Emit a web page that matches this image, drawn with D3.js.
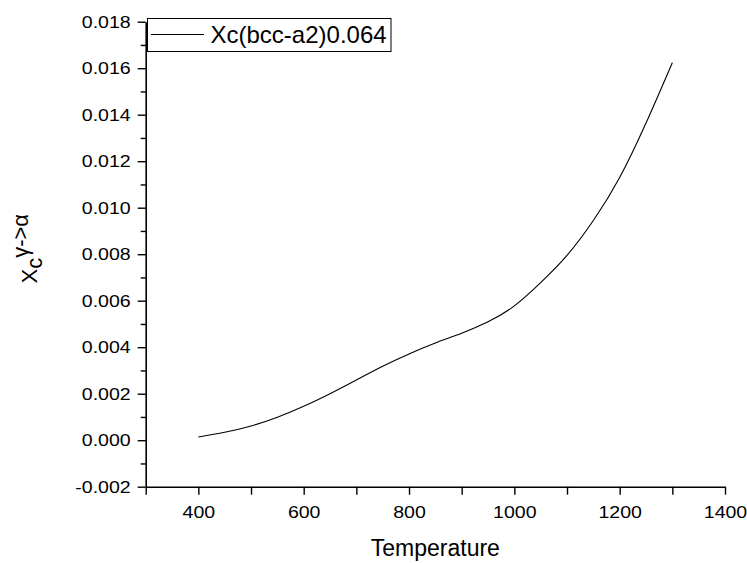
<!DOCTYPE html>
<html>
<head>
<meta charset="utf-8">
<script src="https://cdn.jsdelivr.net/npm/d3@7"></script>
<style>
  html, body { margin: 0; padding: 0; background: #fff; }
  svg { display: block; font-family: "Liberation Sans", Arial, sans-serif; }
</style>
</head>
<body>
<svg id="chart" width="747" height="563"></svg>
<script>
// Critical carbon fraction for the gamma -> alpha transformation vs temperature
const temperature = [400, 450, 500, 550, 600, 650, 700, 750, 800, 850, 900, 950, 1000, 1050, 1100, 1150, 1200, 1250, 1300];
const xc = [0.00014, 0.00034, 0.00061, 0.00099, 0.00146, 0.00200, 0.00259, 0.00318, 0.00371, 0.00418, 0.00460, 0.00509, 0.00578, 0.00678, 0.00795, 0.00945, 0.01130, 0.01364, 0.01624];
const seriesName = "Xc(bcc-a2)0.064";

const xMajorTicks = [400, 600, 800, 1000, 1200, 1400];
const xAllTicks = [300, 400, 500, 600, 700, 800, 900, 1000, 1100, 1200, 1300, 1400];
const yMajorTicks = [-0.002, 0, 0.002, 0.004, 0.006, 0.008, 0.010, 0.012, 0.014, 0.016, 0.018];
const yMinorTicks = [-0.001, 0.001, 0.003, 0.005, 0.007, 0.009, 0.011, 0.013, 0.015, 0.017];

const svg = d3.select("#chart");
const plotL = 145.7, plotR = 725, plotT = 21.7, plotB = 486.7;

const x = d3.scaleLinear().domain([300, 1400]).range([plotL, plotR]);
const y = d3.scaleLinear().domain([-0.002, 0.018]).range([plotB, plotT]);

const fmtY = v => d3.format(".3f")(v).replace("\u2212", "-");

// x axis: ticks every 100, labels every 200
const gx = svg.append("g").attr("transform", `translate(0,${plotB})`);
gx.call(d3.axisBottom(x).tickValues(xAllTicks).tickSize(8).tickSizeOuter(0)
  .tickFormat(d => xMajorTicks.includes(d) ? d : ""));
gx.select(".domain").attr("stroke-width", 1.6);
gx.selectAll(".tick line").attr("stroke-width", 1.4);
gx.selectAll(".tick text")
  .attr("y", 0).attr("dy", 0)
  .attr("transform", "translate(0,31.6) scale(1.15,1)")
  .attr("font-size", 17).attr("fill", "#000")
  .attr("font-family", "Liberation Sans, Arial, sans-serif");

// y axis: labelled majors, shorter minors
const gy = svg.append("g").attr("transform", `translate(${plotL},0)`);
gy.call(d3.axisLeft(y).tickValues(yMajorTicks).tickSize(8).tickSizeOuter(0).tickFormat(fmtY));
gy.select(".domain").attr("stroke-width", 1.6);
gy.selectAll(".tick line").attr("stroke-width", 1.4);
gy.selectAll(".tick text")
  .attr("x", 0).attr("dy", "0.34em")
  .attr("transform", "translate(-15,0) scale(1.15,1)")
  .attr("font-size", 17).attr("fill", "#000")
  .attr("font-family", "Liberation Sans, Arial, sans-serif");

const gyMinor = svg.append("g").attr("transform", `translate(${plotL},0)`);
gyMinor.call(d3.axisLeft(y).tickValues(yMinorTicks).tickSize(5).tickFormat(""));
gyMinor.select(".domain").remove();
gyMinor.selectAll(".tick line").attr("stroke-width", 1.4);

// curve
const pts = temperature.map((t, i) => [t, xc[i]]);
const line = d3.line().x(d => x(d[0])).y(d => y(d[1])).curve(d3.curveNatural);
svg.append("path")
  .datum(pts)
  .attr("d", line)
  .attr("fill", "none")
  .attr("stroke", "#000")
  .attr("stroke-width", 1.1);

// axis titles
svg.append("text")
  .attr("x", (plotL + plotR) / 2).attr("y", 556)
  .attr("text-anchor", "middle")
  .attr("font-size", 23)
  .text("Temperature");

const yl = svg.append("text")
  .attr("transform", "translate(36.7,283.5) rotate(-90)")
  .attr("font-size", 22);
yl.append("tspan").text("X");
yl.append("tspan").attr("dy", 5).text("c");
yl.append("tspan").attr("dy", -13.4).text("\u03b3->\u03b1");

// legend
const lg = svg.append("g");
lg.append("rect")
  .attr("x", 147.5).attr("y", 18.5).attr("width", 243.5).attr("height", 33)
  .attr("fill", "#fff").attr("stroke", "#000").attr("stroke-width", 1);
lg.append("line")
  .attr("x1", 151).attr("x2", 204).attr("y1", 34.5).attr("y2", 34.5)
  .attr("stroke", "#000").attr("stroke-width", 1.1);
lg.append("text")
  .attr("x", 210.5).attr("y", 43.3)
  .attr("font-size", 24)
  .text(seriesName);
</script>
</body>
</html>
